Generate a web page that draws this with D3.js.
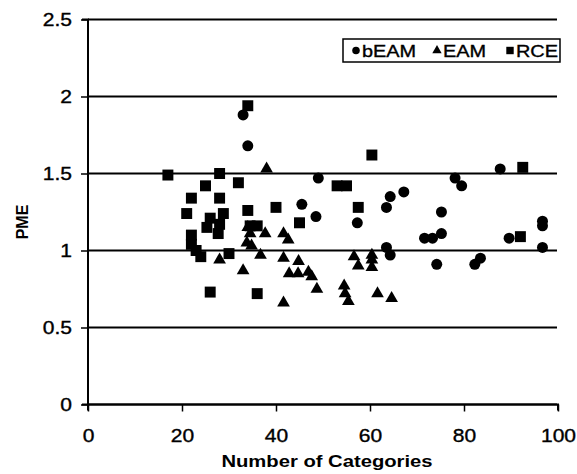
<!DOCTYPE html>
<html>
<head>
<meta charset="utf-8">
<script src="https://cdn.jsdelivr.net/npm/d3@7"></script>
<style>
  body { margin: 0; background: #fff; }
  svg { font-family: "Liberation Sans", Arial, sans-serif; }
</style>
</head>
<body>
<div id="chart"></div>
<script>
// values: [categories, PME]
const bEAM = [
    [33, 1.88], [34, 1.68], [49, 1.47], [45.5, 1.30], [48.5, 1.22], [57.3, 1.18],
    [63.5, 1.28], [64.3, 1.35], [67.2, 1.38], [63.5, 1.02], [64.3, 0.97],
    [71.6, 1.08], [73.3, 1.08], [75.2, 1.11], [75.2, 1.25], [74.2, 0.91],
    [78.1, 1.47], [79.5, 1.42], [87.7, 1.53], [89.6, 1.08], [96.7, 1.19],
    [96.7, 1.16], [96.7, 1.02], [82.3, 0.91], [83.5, 0.95]
];
const EAM = [
    [34, 1.15], [34.5, 1.11], [37.7, 1.11], [41.6, 1.11], [42.6, 1.07],
    [33.8, 1.05], [34.8, 1.03], [36.7, 0.97], [33, 0.87], [28, 0.94],
    [41.6, 0.95], [44.8, 0.93], [42.8, 0.85], [44.7, 0.85], [46.9, 0.86],
    [47.6, 0.83], [48.7, 0.75], [41.6, 0.66], [38, 1.53], [56.6, 0.96],
    [57.5, 0.90], [60.4, 0.97], [60.4, 0.94], [60.4, 0.89], [54.5, 0.77],
    [54.7, 0.72], [55.4, 0.67], [61.6, 0.72], [64.6, 0.69]
];
const RCE = [
    [17, 1.49], [34, 1.94], [28, 1.50], [25, 1.42], [32, 1.44], [22, 1.34],
    [28, 1.34], [21, 1.24], [34, 1.26], [40, 1.28], [26, 1.21], [28.8, 1.24],
    [25.3, 1.15], [28, 1.17], [27.7, 1.11], [45, 1.18], [34.5, 1.16], [36, 1.16],
    [22, 1.10], [22, 1.04], [23, 1.00], [24, 0.96], [30, 0.98], [26, 0.73],
    [36, 0.72], [53, 1.42], [55, 1.42], [60.4, 1.62], [57.5, 1.28],
    [92.5, 1.54], [92, 1.09]
];
const xTicks = [0, 20, 40, 60, 80, 100];
const yTicks = [0, 0.5, 1, 1.5, 2, 2.5];
const seriesNames = ["bEAM", "EAM", "RCE"];

const W = 577, H = 474;
const sx = 1.17; // the scanned text is a bit wider than plain Arial
const svg = d3.select("#chart").append("svg").attr("width", W).attr("height", H);

const x = d3.scaleLinear().domain([0, 100]).range([88, 558]);
const y = d3.scaleLinear().domain([0, 2.5]).range([404.5, 19.5]);

// horizontal gridlines
svg.append("g").selectAll("line").data(yTicks).join("line")
    .attr("x1", x(0)).attr("x2", 557)
    .attr("y1", d => y(d)).attr("y2", d => y(d))
    .attr("stroke", "#000").attr("stroke-width", 2);

const yAxis = svg.append("g").attr("transform", `translate(${x(0)},0)`)
    .call(d3.axisLeft(y).tickValues(yTicks).tickSize(7).tickFormat(d3.format("")));
const xAxis = svg.append("g").attr("transform", `translate(0,${y(0)})`)
    .call(d3.axisBottom(x).tickValues(xTicks).tickSize(7));

[yAxis, xAxis].forEach(a => {
    a.attr("font-size", 18).attr("font-family", "Liberation Sans, Arial, sans-serif");
    a.select(".domain").attr("stroke-width", 2).attr("stroke", "#000");
    a.selectAll(".tick line").attr("stroke-width", 1.5).attr("stroke", "#000");
    a.selectAll("text").attr("fill", "#000").attr("stroke", "#000").attr("stroke-width", 0.35)
        .attr("transform", `scale(${sx},1)`);
});
yAxis.selectAll("text").attr("x", -16 / sx);
xAxis.selectAll("text").attr("y", 25);
xAxis.select(".domain").attr("d", `M${x(0)},6V0H${x(100)}V6`);
yAxis.select(".domain").attr("d", `M-6,${y(2.5)}H0V${y(0)}H-6`);

svg.append("text").attr("transform", `translate(327,467) scale(${sx + 0.02},1)`)
    .attr("text-anchor", "middle")
    .attr("font-size", 17).attr("font-weight", "bold").text("Number of Categories");
svg.append("text").attr("transform", "translate(28,222) rotate(-90)")
    .attr("text-anchor", "middle").attr("font-size", 16).attr("font-weight", "bold").text("PME");

const shapes = {
    bEAM: d3.symbol().type(d3.symbolCircle).size(95),
    EAM: d3.symbol().type(d3.symbolTriangle).size(70),
    RCE: d3.symbol().type(d3.symbolSquare).size(120)
};
const seriesData = { bEAM: bEAM, EAM: EAM, RCE: RCE };

seriesNames.forEach(name => {
    svg.append("g").selectAll("path").data(seriesData[name]).join("path")
        .attr("d", shapes[name])
        .attr("transform", d => `translate(${x(d[0])},${y(d[1])})`)
        .attr("fill", "#000");
});

// legend
const legend = svg.append("g").attr("transform", "translate(343,39)");
legend.append("rect").attr("width", 217).attr("height", 23)
    .attr("fill", "#fff").attr("stroke", "#000").attr("stroke-width", 1.5);
const legendPos = [{ mx: 13, tx: 19 }, { mx: 94, tx: 100 }, { mx: 167, tx: 173 }];
const legendShapes = {
    bEAM: d3.symbol().type(d3.symbolCircle).size(45),
    EAM: d3.symbol().type(d3.symbolTriangle).size(38),
    RCE: d3.symbol().type(d3.symbolSquare).size(55)
};
seriesNames.forEach((name, i) => {
    legend.append("path").attr("d", legendShapes[name])
        .attr("transform", `translate(${legendPos[i].mx},11.5)`).attr("fill", "#000");
    legend.append("text").attr("transform", `translate(${legendPos[i].tx},18) scale(${sx},1)`)
        .attr("font-size", 17).attr("stroke", "#000").attr("stroke-width", 0.35).text(name);
});
</script>
</body>
</html>
